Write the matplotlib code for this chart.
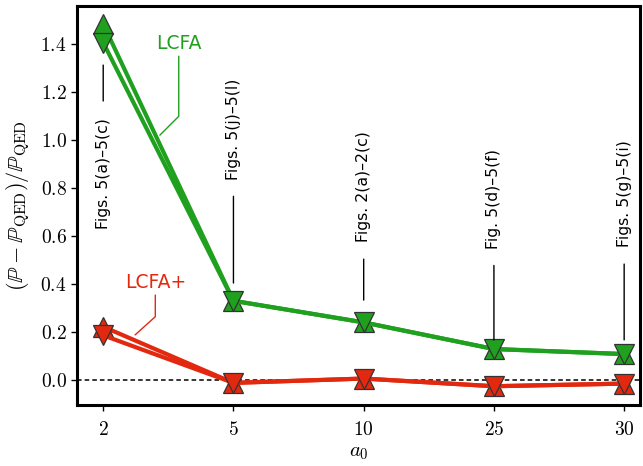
import numpy as np
import matplotlib
matplotlib.use("Agg")
import matplotlib.pyplot as plt
from matplotlib.ticker import FuncFormatter

plt.rcParams['mathtext.fontset'] = 'cm'
plt.rcParams['font.family'] = ['DejaVu Sans']

# data
a0_labels = ['2', '5', '10', '25', '30']
lcfa_up = [1.483, 0.330, 0.240, 0.129, 0.108]
lcfa_down = [1.406, 0.330, 0.240, 0.129, 0.108]
lcfap_up = [0.222, -0.012, 0.006, -0.026, -0.015]
lcfap_down = [0.186, -0.012, 0.006, -0.026, -0.015]

fig_refs = ['Figs. 5(a)–5(c)', 'Figs. 5(j)–5(l)', 'Figs. 2(a)–2(c)',
            'Fig. 5(d)–5(f)', 'Figs. 5(g)–5(i)']
ref_text_y = [0.862, 1.046, 0.804, 0.755, 0.775]
ref_line_end = [1.312, 0.404, 0.333, 0.167, 0.167]

green = '#1fa01f'
red = '#e2290f'

fig = plt.figure(figsize=(6.43, 4.66), dpi=100)
ax = fig.add_axes([0.12, 0.131, 0.875, 0.856])

x = np.arange(len(a0_labels))

ax.axhline(0, color='k', ls='--', lw=1.1, dashes=(3, 2), zorder=1)

ms = 14
for vals, mk in [(lcfa_up, '^'), (lcfa_down, 'v')]:
    ax.plot(x, vals, color=green, lw=3, marker=mk, ms=ms,
            mec='#333333', mew=0.9, zorder=3)
for vals, mk in [(lcfap_up, '^'), (lcfap_down, 'v')]:
    ax.plot(x, vals, color=red, lw=3, marker=mk, ms=ms,
            mec='#333333', mew=0.9, zorder=3)

# figure references
for i, txt in enumerate(fig_refs):
    ax.annotate(txt, xy=(x[i], ref_line_end[i]), xytext=(x[i], ref_text_y[i]),
                rotation=90, ha='center', va='center', fontsize=11.3,
                arrowprops=dict(arrowstyle='-', color='k', lw=1,
                                shrinkA=10, shrinkB=0))

# series labels
ax.annotate('LCFA', xy=(0.435, 1.02), xytext=(0.58, 1.40), color=green,
            fontsize=13.5, ha='center', va='center',
            arrowprops=dict(arrowstyle='-', color=green, lw=1,
                            connectionstyle='angle,angleA=90,angleB=45,rad=0',
                            shrinkA=0, shrinkB=0))
ax.annotate('LCFA+', xy=(0.245, 0.188), xytext=(0.4, 0.405), color=red,
            fontsize=13.5, ha='center', va='center',
            arrowprops=dict(arrowstyle='-', color=red, lw=1,
                            connectionstyle='angle,angleA=90,angleB=42,rad=0',
                            shrinkA=0, shrinkB=0))

ax.set_xlim(-0.2, 4.12)
ax.set_ylim(-0.104, 1.558)
ax.set_xticks(x)
ax.set_xticklabels(['$%s$' % s for s in a0_labels])
ax.set_yticks(np.arange(0, 1.41, 0.2))
ax.yaxis.set_major_formatter(FuncFormatter(lambda v, p: '$%.1f$' % v))
ax.tick_params(labelsize=14, length=4, width=1, direction='out')
ax.tick_params(axis='x', pad=7)
for s in ax.spines.values():
    s.set_linewidth(2.2)

ax.set_xlabel('$a_0$', fontsize=15, labelpad=2)
ax.set_ylabel(r'$(\mathbb{P}-\mathbb{P}_{\rm QED})/\mathbb{P}_{\rm QED}$',
              fontsize=16, labelpad=6)

fig.savefig('out.png', dpi=100)
